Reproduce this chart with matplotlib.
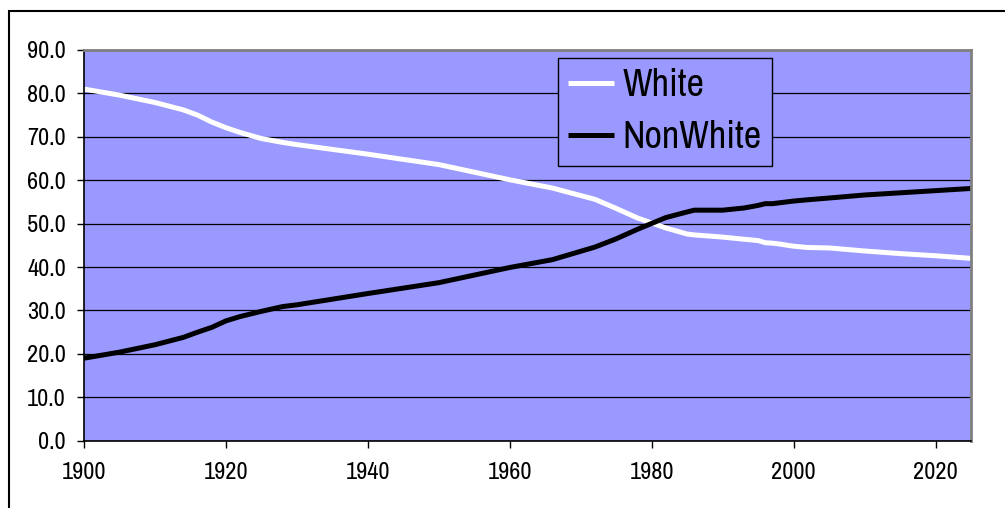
import matplotlib
matplotlib.use("Agg")
import matplotlib.pyplot as plt
from matplotlib import font_manager
from matplotlib.patches import Rectangle

# share of population (%)
years = [1900, 1905, 1910, 1914, 1916, 1918, 1920, 1922, 1925, 1928, 1930,
         1940, 1950, 1960, 1966, 1972, 1975, 1978, 1982, 1985, 1986, 1990,
         1993, 1995, 1996, 1997, 1998, 2000, 2002, 2005, 2010, 2015, 2020, 2025]
white = [81.0, 79.6, 77.9, 76.2, 75.0, 73.4, 72.1, 71.0, 69.6, 68.7, 68.2,
         66.0, 63.6, 60.1, 58.2, 55.6, 53.5, 51.3, 49.0, 47.6, 47.4, 46.9,
         46.4, 46.1, 45.6, 45.5, 45.3, 44.8, 44.5, 44.4, 43.7, 43.1, 42.6, 42.0]
nonwhite = [19.0, 20.4, 22.1, 23.8, 25.0, 26.1, 27.6, 28.6, 29.8, 30.9, 31.3,
            33.9, 36.4, 39.9, 41.7, 44.6, 46.5, 48.7, 51.4, 52.7, 53.1, 53.1,
            53.6, 54.2, 54.6, 54.6, 54.8, 55.2, 55.5, 55.9, 56.6, 57.1, 57.6, 58.1]
xticks = [1900, 1920, 1940, 1960, 1980, 2000, 2020]
yticks = [0, 10, 20, 30, 40, 50, 60, 70, 80, 90]

# look for a narrow sans font (Arial Narrow look), else condensed DejaVu
narrow = None
for f in font_manager.fontManager.ttflist:
    if ('Narrow' in f.name or 'Condensed' in f.name) and 'Bold' not in f.fname:
        narrow = f.name
        break
    if f.name == 'DejaVu Sans' and f.stretch == 'condensed' and f.weight == 400 and f.style == 'normal':
        narrow = f.fname
if narrow is not None and narrow.endswith('.ttf'):
    font_manager.fontManager.addfont(narrow)
    narrow = font_manager.FontProperties(fname=narrow).get_name()
    plt.rcParams['font.stretch'] = 'condensed'
if narrow is not None:
    plt.rcParams['font.family'] = [narrow, 'DejaVu Sans']
else:
    plt.rcParams['font.family'] = ['Liberation Sans', 'DejaVu Sans']

fig = plt.figure(figsize=(10.05, 5.08), dpi=100)
ax = fig.add_axes([0.0836, 0.1325, 0.8826, 0.7691])
ax.set_facecolor('#9999FF')

ax.plot(years, white, color='white', lw=3.6, label='White', solid_capstyle='butt')
ax.plot(years, nonwhite, color='black', lw=3.6, label='NonWhite', solid_capstyle='butt')

ax.set_xlim(1900, 2025)
ax.set_ylim(0, 90)
ax.set_xticks(xticks)
ax.set_yticks(yticks)
ax.set_yticklabels(['%.1f' % v for v in yticks])
ax.yaxis.grid(True, color='black', lw=0.9)
ax.set_axisbelow(True)
ax.tick_params(axis='both', labelsize=17.5, color='black', width=1, length=5)
ax.tick_params(axis='y', pad=8)
ax.tick_params(axis='x', pad=10)

for side in ['top', 'right']:
    ax.spines[side].set_color('#808080')
    ax.spines[side].set_linewidth(2)
for side in ['left', 'bottom']:
    ax.spines[side].set_color('black')
    ax.spines[side].set_linewidth(1.2)

leg = ax.legend(loc='upper left', bbox_to_anchor=(558 / 1005, 1 - 58 / 508),
                bbox_transform=fig.transFigure, fontsize=27.5, frameon=True,
                fancybox=False, handlelength=1.2, handletextpad=0.22,
                labelspacing=0.45, borderpad=0.27, borderaxespad=0)
leg.get_frame().set_facecolor('#9999FF')
leg.get_frame().set_edgecolor('black')
leg.get_frame().set_linewidth(1)
leg.get_frame().set_alpha(1)

# outer chart frame, cropped at right and bottom
fig.patches.append(Rectangle((9 / 1005, -0.2), 1.2, (508 - 11) / 508 + 0.2,
                             transform=fig.transFigure, fill=False,
                             edgecolor='black', lw=1.5))

fig.savefig('out.png', dpi=100)
